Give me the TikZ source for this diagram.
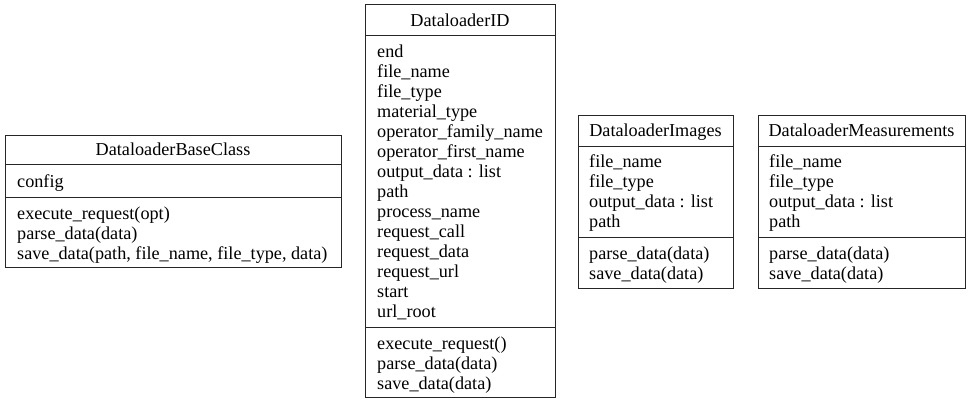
\documentclass[tikz,border=0pt]{standalone}
\usepackage{fontspec}
\setmainfont{Liberation Serif}
\newcommand{\fs}{\fontsize{18.2}{20}\selectfont}
\tikzset{
  lbl/.style={anchor=base west, inner sep=0pt, font=\fs},
  ttl/.style={anchor=base, inner sep=0pt, font=\fs},
  box/.style={draw=black!85, line width=1pt},
}
\begin{document}
\begin{tikzpicture}[x=1pt,y=-1pt]
\useasboundingbox (0,0) rectangle (973,404);
% DataloaderBaseClass
\draw[box] (5,135) rectangle (341,267);
\draw[box] (5,164) -- (341,164);
\draw[box] (5,197) -- (341,197);
\node[ttl] (bt) at (173,155) {DataloaderBaseClass};
\node[lbl] (ba1) at (17,187) {config};
\foreach [count=\i] \t in {execute\_request(opt), parse\_data(data), {save\_data(path, file\_name, file\_type, data)}}
  \node[lbl] (bm\i) at (17,{199+20*\i}) {\t};
% DataloaderID
\draw[box] (365,5) rectangle (555,397);
\draw[box] (365,36) -- (555,36);
\draw[box] (365,327) -- (555,327);
\node[ttl] (it) at (460,27) {DataloaderID};
\foreach [count=\i] \t in {end, file\_name, file\_type, material\_type, operator\_family\_name, operator\_first\_name, output\_data : list, path, process\_name, request\_call, request\_data, request\_url, start, url\_root}
  \node[lbl] (ia\i) at (377,{37+20*\i}) {\t};
\foreach [count=\i] \t in {execute\_request(), parse\_data(data), save\_data(data)}
  \node[lbl] (im\i) at (377,{329+20*\i}) {\t};
% DataloaderImages
\draw[box] (578,115) rectangle (733,288);
\draw[box] (578,146) -- (733,146);
\draw[box] (578,237) -- (733,237);
\node[ttl] (gt) at (655.5,136) {DataloaderImages};
\foreach [count=\i] \t in {file\_name, file\_type, output\_data : list, path}
  \node[lbl] (ga\i) at (589,{147+20*\i}) {\t};
\foreach [count=\i] \t in {parse\_data(data), save\_data(data)}
  \node[lbl] (gm\i) at (589,{239+20*\i}) {\t};
% DataloaderMeasurements
\draw[box] (758,115) rectangle (965,288);
\draw[box] (758,146) -- (965,146);
\draw[box] (758,237) -- (965,237);
\node[ttl] (mt) at (861.5,136) {DataloaderMeasurements};
\foreach [count=\i] \t in {file\_name, file\_type, output\_data : list, path}
  \node[lbl] (ma\i) at (769,{147+20*\i}) {\t};
\foreach [count=\i] \t in {parse\_data(data), save\_data(data)}
  \node[lbl] (mm\i) at (769,{239+20*\i}) {\t};
\end{tikzpicture}
\end{document}
